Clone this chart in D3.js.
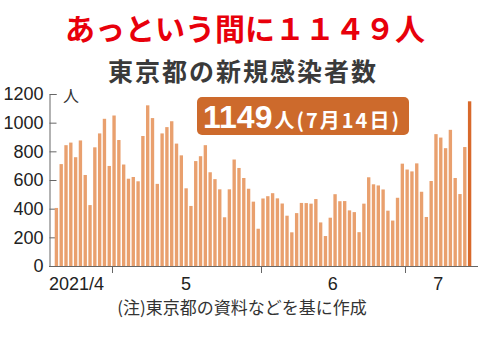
<!DOCTYPE html>
<html>
<head>
<meta charset="utf-8">
<script src="https://cdn.jsdelivr.net/npm/d3@7"></script>
<style>
  body { margin: 0; background: #fff; }
  text { font-family: "Liberation Sans", "Noto Sans CJK JP", sans-serif; }
  .jp { font-family: "Noto Sans CJK JP", sans-serif; }
</style>
</head>
<body>
<div id="chart"></div>
<script>
// daily new cases, Tokyo, 2021/4/19 - 7/14
var aprCases = [405, 711, 843, 861, 759, 876, 635, 425, 828, 925, 1027, 698];
var mayCases = [1050, 879, 708, 609, 621, 591, 907, 1121, 1032, 573, 925, 969, 1010, 854, 772, 542,
  419, 732, 766, 843, 654, 606, 535, 340, 535, 743, 684, 614, 539, 449, 260];
var junCases = [471, 487, 508, 472, 436, 351, 235, 369, 440, 439, 435, 467, 304, 209, 337, 501,
  452, 453, 388, 376, 236, 435, 619, 570, 562, 534, 386, 317, 476, 714];
var julCases = [673, 660, 716, 518, 342, 593, 920, 896, 822, 950, 614, 502, 830, 1149];
var monthLabels = ["2021/4", "5", "6", "7"];
var yTicks = [0, 200, 400, 600, 800, 1000, 1200];

var months = [aprCases, mayCases, junCases, julCases];
var cases = [].concat(aprCases, mayCases, junCases, julCases);

var width = 480, height = 360;

var svg = d3.select("#chart")
  .append("svg")
  .attr("width", width)
  .attr("height", height);

// titles
svg.append("text")
  .attr("class", "jp")
  .attr("x", 245).attr("y", 40)
  .attr("text-anchor", "middle")
  .style("font-size", "30px").style("font-weight", "bold")
  .style("fill", "#e8000b")
  .text("あっという間に１１４９人");

svg.append("text")
  .attr("class", "jp")
  .attr("x", 243).attr("y", 81)
  .attr("text-anchor", "middle")
  .style("font-size", "25px").style("font-weight", "bold")
  .style("letter-spacing", "2px")
  .style("fill", "#3a3a3a")
  .text("東京都の新規感染者数");

var x = d3.scaleBand()
  .domain(d3.range(cases.length))
  .range([54, 472])
  .paddingInner(0.3)
  .paddingOuter(0.15);

var y = d3.scaleLinear().domain([0, 1200]).range([266, 94]);

// y axis (ticks point inward)
var yAxis = svg.append("g")
  .attr("transform", "translate(49.5,0)")
  .call(d3.axisLeft(y).tickValues(yTicks).tickFormat(d3.format("d")).tickSize(-7).tickPadding(6));
yAxis.select(".domain").attr("stroke", "#666");
yAxis.selectAll(".tick line").attr("stroke", "#666");
yAxis.selectAll(".tick text")
  .style("font-size", "18px").style("fill", "#222")
  .attr("font-family", null);

svg.append("text")
  .attr("class", "jp")
  .attr("x", 63).attr("y", 102)
  .style("font-size", "16px").style("fill", "#333")
  .text("人");

// bars
svg.selectAll(".bar")
  .data(cases)
  .enter()
  .append("rect")
  .attr("class", "bar")
  .attr("x", function (d, i) { return x(i); })
  .attr("y", function (d) { return y(d); })
  .attr("width", x.bandwidth())
  .attr("height", function (d) { return y(0) - y(d); })
  .style("fill", function (d, i) { return i == cases.length - 1 ? "#d8692b" : "#e9a06e"; });

// x axis
svg.append("line")
  .attr("x1", 49).attr("x2", 478)
  .attr("y1", 266.5).attr("y2", 266.5)
  .attr("stroke", "#666");

var starts = [];
var n = 0;
months.forEach(function (m) { starts.push(n); n += m.length; });

var edge = function (i) {
  return i >= cases.length ? x.range()[1] : x(i) - x.step() * x.paddingInner() / 2;
};

svg.selectAll(".mtick")
  .data(starts.slice(1))
  .enter()
  .append("line")
  .attr("x1", function (d) { return Math.round(edge(d)) + 0.5; })
  .attr("x2", function (d) { return Math.round(edge(d)) + 0.5; })
  .attr("y1", 266).attr("y2", 273)
  .attr("stroke", "#666");

svg.selectAll(".mlabel")
  .data(monthLabels)
  .enter()
  .append("text")
  .attr("x", function (d, i) {
    if (i == 0) return 49;
    return (edge(starts[i]) + edge(starts[i] + months[i].length)) / 2;
  })
  .attr("y", 290)
  .attr("text-anchor", function (d, i) { return i == 0 ? "start" : "middle"; })
  .style("font-size", "18px").style("fill", "#222")
  .text(function (d) { return d; });

// note
svg.append("text")
  .attr("class", "jp")
  .attr("x", 242).attr("y", 314)
  .attr("text-anchor", "middle")
  .style("font-size", "17px").style("fill", "#333")
  .text("(注)東京都の資料などを基に作成");

// badge for the latest value
var badge = svg.append("g");
badge.append("rect")
  .attr("x", 197).attr("y", 97)
  .attr("width", 212).attr("height", 38)
  .attr("rx", 5)
  .style("fill", "#cd6a2c");
var bt = badge.append("text")
  .attr("x", 203).attr("y", 128)
  .style("fill", "#fff").style("font-weight", "bold");
bt.append("tspan")
  .style("font-size", "32px")
  .text(cases[cases.length - 1]);
bt.append("tspan")
  .attr("class", "jp")
  .attr("dx", 2)
  .style("font-size", "20px")
  .style("letter-spacing", "2px")
  .text("人(7月14日)");
</script>
</body>
</html>
